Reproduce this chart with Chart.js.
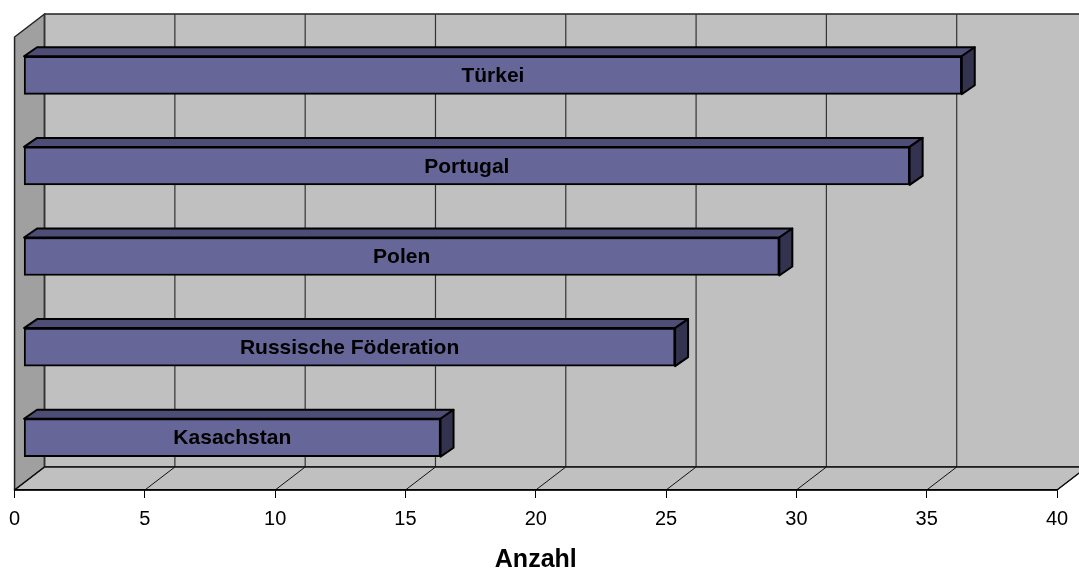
<!DOCTYPE html>
<html>
<head>
<meta charset="utf-8">
<script src="https://cdn.jsdelivr.net/npm/chart.js@4/dist/chart.umd.min.js"></script>
<style>
	html, body { margin: 0; padding: 0; background: #fff; }
	#box { width: 1079px; height: 569px; position: relative; }
</style>
</head>
<body>
<div id="box"><canvas id="chart"></canvas></div>
<script>
const countries = ['Türkei', 'Portugal', 'Polen', 'Russische Föderation', 'Kasachstan'];
const counts = [36, 34, 29, 25, 16];
const xTicks = [0, 5, 10, 15, 20, 25, 30, 35, 40];

const FONT = "'Liberation Sans', Arial, sans-serif";
const WALL = {x: 30, y: -23};     // depth of the room
const SHIFT = {x: 9, y: -7};      // bars sit a bit inside the room
const BAR = {x: 13, y: -9};       // depth of a bar

const poly = (ctx, pts, fill, stroke, lw) => {
	ctx.beginPath();
	ctx.moveTo(pts[0][0], pts[0][1]);
	pts.slice(1).forEach(p => ctx.lineTo(p[0], p[1]));
	ctx.closePath();
	if (fill) { ctx.fillStyle = fill; ctx.fill(); }
	if (stroke) { ctx.strokeStyle = stroke; ctx.lineWidth = lw; ctx.stroke(); }
}

const room = {
	id: 'room',
	beforeDraw: (chart) => {
		const {ctx, chartArea: a, scales: {x}} = chart;
		const l = x.getPixelForValue(xTicks[0]);
		const r = x.getPixelForValue(xTicks[xTicks.length - 1]);
		ctx.save();
		ctx.lineJoin = 'round';
		// left wall
		poly(ctx, [[l, a.top], [l + WALL.x, a.top + WALL.y], [l + WALL.x, a.bottom + WALL.y], [l, a.bottom]], '#a0a0a0', '#222', 1.5);
		// back wall
		poly(ctx, [[l + WALL.x, a.top + WALL.y], [r + WALL.x, a.top + WALL.y], [r + WALL.x, a.bottom + WALL.y], [l + WALL.x, a.bottom + WALL.y]], '#c0c0c0', '#222', 1.5);
		xTicks.forEach(v => {
			const px = x.getPixelForValue(v) + WALL.x;
			ctx.beginPath();
			ctx.moveTo(px, a.top + WALL.y);
			ctx.lineTo(px, a.bottom + WALL.y);
			ctx.strokeStyle = '#333';
			ctx.lineWidth = 1.2;
			ctx.stroke();
		});
		// floor
		poly(ctx, [[l, a.bottom], [r, a.bottom], [r + WALL.x, a.bottom + WALL.y], [l + WALL.x, a.bottom + WALL.y]], '#c0c0c0', '#111', 1.5);
		xTicks.forEach(v => {
			const px = x.getPixelForValue(v);
			ctx.beginPath();
			ctx.moveTo(px, a.bottom);
			ctx.lineTo(px + WALL.x, a.bottom + WALL.y);
			ctx.strokeStyle = '#111';
			ctx.lineWidth = 1;
			ctx.stroke();
		});
		ctx.restore();
	},
	beforeDatasetsDraw: (chart) => {
		chart.ctx.save();
		chart.ctx.translate(SHIFT.x, SHIFT.y);
	},
	afterDatasetsDraw: (chart) => {
		const ctx = chart.ctx;
		const meta = chart.getDatasetMeta(0);
		ctx.lineJoin = 'round';
		meta.data.forEach((bar, i) => {
			const {x, y, base, height} = bar.getProps(['x', 'y', 'base', 'height']);
			const yt = y - height / 2;
			const yb = y + height / 2;
			poly(ctx, [[base, yt], [base + BAR.x, yt + BAR.y], [x + BAR.x, yt + BAR.y], [x, yt]], '#4d4d75', '#000', 2);
			poly(ctx, [[x, yt], [x + BAR.x, yt + BAR.y], [x + BAR.x, yb + BAR.y], [x, yb]], '#33334f', '#000', 2);
			ctx.fillStyle = '#000';
			ctx.font = 'bold 21px ' + FONT;
			ctx.textAlign = 'center';
			ctx.textBaseline = 'middle';
			ctx.fillText(countries[i], (x + base) / 2, y + 1);
		});
		ctx.restore();
	}
};

window.onload = () => {
	const ctx = document.getElementById('chart').getContext('2d');
	new Chart(ctx, {
		type: 'bar',
		data: {
			labels: countries,
			datasets: [{
				data: counts,
				backgroundColor: '#666699',
				borderColor: '#000',
				borderWidth: 2,
				borderSkipped: false,
				barThickness: 38
			}]
		},
		options: {
			indexAxis: 'y',
			responsive: true,
			maintainAspectRatio: false,
			animation: false,
			layout: {padding: {left: 14, right: 22, top: 37, bottom: 0}},
			plugins: {legend: {display: false}, tooltip: {enabled: false}},
			scales: {
				x: {
					min: 0,
					max: 40,
					afterFit: s => { s.height = 79; },
					afterBuildTicks: s => { s.ticks = xTicks.map(v => ({value: v})); },
					grid: {drawOnChartArea: false, drawTicks: true, tickLength: 8, color: '#000', lineWidth: 1},
					border: {display: true, color: '#000', width: 1.5},
					ticks: {color: '#000', padding: 9, font: {family: FONT, size: 20}},
					title: {
						display: true,
						text: 'Anzahl',
						color: '#000',
						padding: 0,
						font: {family: FONT, size: 25, weight: 'bold', lineHeight: 0.75}
					}
				},
				y: {display: false}
			}
		},
		plugins: [room]
	});
}
</script>
</body>
</html>
